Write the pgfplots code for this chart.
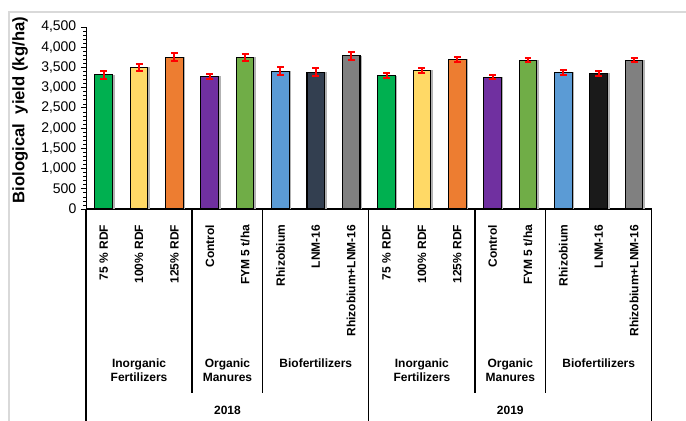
\documentclass[border=0pt]{standalone}
\usepackage{pgfplots}
\pgfplotsset{compat=1.18}
\usepackage{fontspec}
\setmainfont{Liberation Sans}
\definecolor{cgreen}{HTML}{00B050}
\definecolor{cyellow}{HTML}{FFD966}
\definecolor{corange}{HTML}{ED7D31}
\definecolor{cpurple}{HTML}{7030A0}
\definecolor{cgreentwo}{HTML}{70AD47}
\definecolor{cblue}{HTML}{5B9BD5}
\definecolor{cslate}{HTML}{333F50}
\definecolor{cblack}{HTML}{1A1A1A}
\definecolor{cgray}{HTML}{808080}
\definecolor{frame}{HTML}{D9D9D9}
\newcommand{\mybar}[4]{%
  \addplot[fill=black!30, draw=none, bar shift=1.5pt, forget plot] coordinates {(#1,#2)};
  \addplot[fill=#4, draw=black, line width=0.8pt,
    error bars/.cd, y dir=both, y explicit,
    error bar style={red, line width=1.5pt},
    error mark options={red, line width=1.5pt, mark size=2.6pt, rotate=90}]
    coordinates {(#1,#2) +- (0,#3)};}
\newcommand{\grp}[2]{\path (axis cs:#1,0) ++(0pt,-112.5pt) node[anchor=north, inner sep=0pt, align=center,
     font=\bfseries\fontsize{9}{10}\selectfont] {#2};}
\begin{document}
\begin{tikzpicture}
\path[use as bounding box] (0,0) rectangle (514.5pt,315.75pt);
\draw[frame, line width=0.8pt] (6.75pt,0) -- (6.75pt,306.75pt) -- (514.5pt,306.75pt);
\begin{axis}[
  at={(64.5pt,159pt)}, anchor=south west,
  scale only axis, width=424.3pt, height=136.5pt,
  xmin=-0.5, xmax=15.5, ymin=0, ymax=4500,
  ybar, bar width=0.5,
  every axis plot/.append style={bar shift=0pt},
  axis x line=bottom, axis y line=left,
  x axis line style={-, line width=1.5pt},
  y axis line style={-, line width=0.7pt},
  xtick={0,...,15},
  xticklabels={75 \% RDF,100\% RDF,125\% RDF,Control,FYM 5 t/ha,Rhizobium,LNM-16,Rhizobium+LNM-16,
               75 \% RDF,100\% RDF,125\% RDF,Control,FYM 5 t/ha,Rhizobium,LNM-16,Rhizobium+LNM-16},
  major x tick style={draw=none},
  xticklabel style={yshift=-4.5pt, rotate=90, anchor=east, font=\bfseries\fontsize{9}{10}\selectfont},
  ytick={0,500,...,4500},
  minor y tick num=4,
  tick align=outside,
  major y tick style={black, line width=0.6pt},
  minor y tick style={black, line width=0.5pt},
  major tick length=3.75pt, minor tick length=2pt,
  yticklabel style={font=\fontsize{10.5}{12}\selectfont},
  /pgf/number format/assume math mode=true,
  /pgf/number format/.cd, 1000 sep={,},
  /pgfplots/.cd,
  clip=false,
]
\mybar{0}{3320}{100}{cgreen}
\mybar{1}{3500}{95}{cyellow}
\mybar{2}{3750}{95}{corange}
\mybar{3}{3280}{70}{cpurple}
\mybar{4}{3750}{85}{cgreentwo}
\mybar{5}{3405}{95}{cblue}
\mybar{6}{3380}{100}{cslate}
\mybar{7}{3790}{100}{cgray}
\mybar{8}{3300}{70}{cgreen}
\mybar{9}{3430}{65}{cyellow}
\mybar{10}{3700}{65}{corange}
\mybar{11}{3260}{55}{cpurple}
\mybar{12}{3680}{55}{cgreentwo}
\mybar{13}{3380}{65}{cblue}
\mybar{14}{3355}{55}{cblack}
\mybar{15}{3680}{55}{cgray}
% separators
\pgfplotsinvokeforeach{2.5,4.5,10.5,12.5}{
  \draw[black, line width=0.9pt] (axis cs:#1,0) -- ++(0pt,-137.8pt);
}
\pgfplotsinvokeforeach{-0.5,7.5,15.5}{
  \draw[black, line width=0.9pt] (axis cs:#1,0) -- ++(0pt,-165pt);
}
% group labels
\grp{1}{Inorganic\\Fertilizers}
\grp{3.5}{Organic\\Manures}
\grp{6}{Biofertilizers}
\grp{9}{Inorganic\\Fertilizers}
\grp{11.5}{Organic\\Manures}
\grp{14}{Biofertilizers}
\path (axis cs:3.5,0) ++(0pt,-151.3pt) node[font=\bfseries\fontsize{9}{10}\selectfont] {2018};
\path (axis cs:11.5,0) ++(0pt,-151.3pt) node[font=\bfseries\fontsize{9}{10}\selectfont] {2019};
% y label
\path (rel axis cs:0,0.5) ++(-49.5pt,6pt) node[rotate=90, font=\bfseries\fontsize{12.5}{14}\selectfont] {Biological\ \ yield (kg/ha)};
\end{axis}
\end{tikzpicture}
\end{document}
